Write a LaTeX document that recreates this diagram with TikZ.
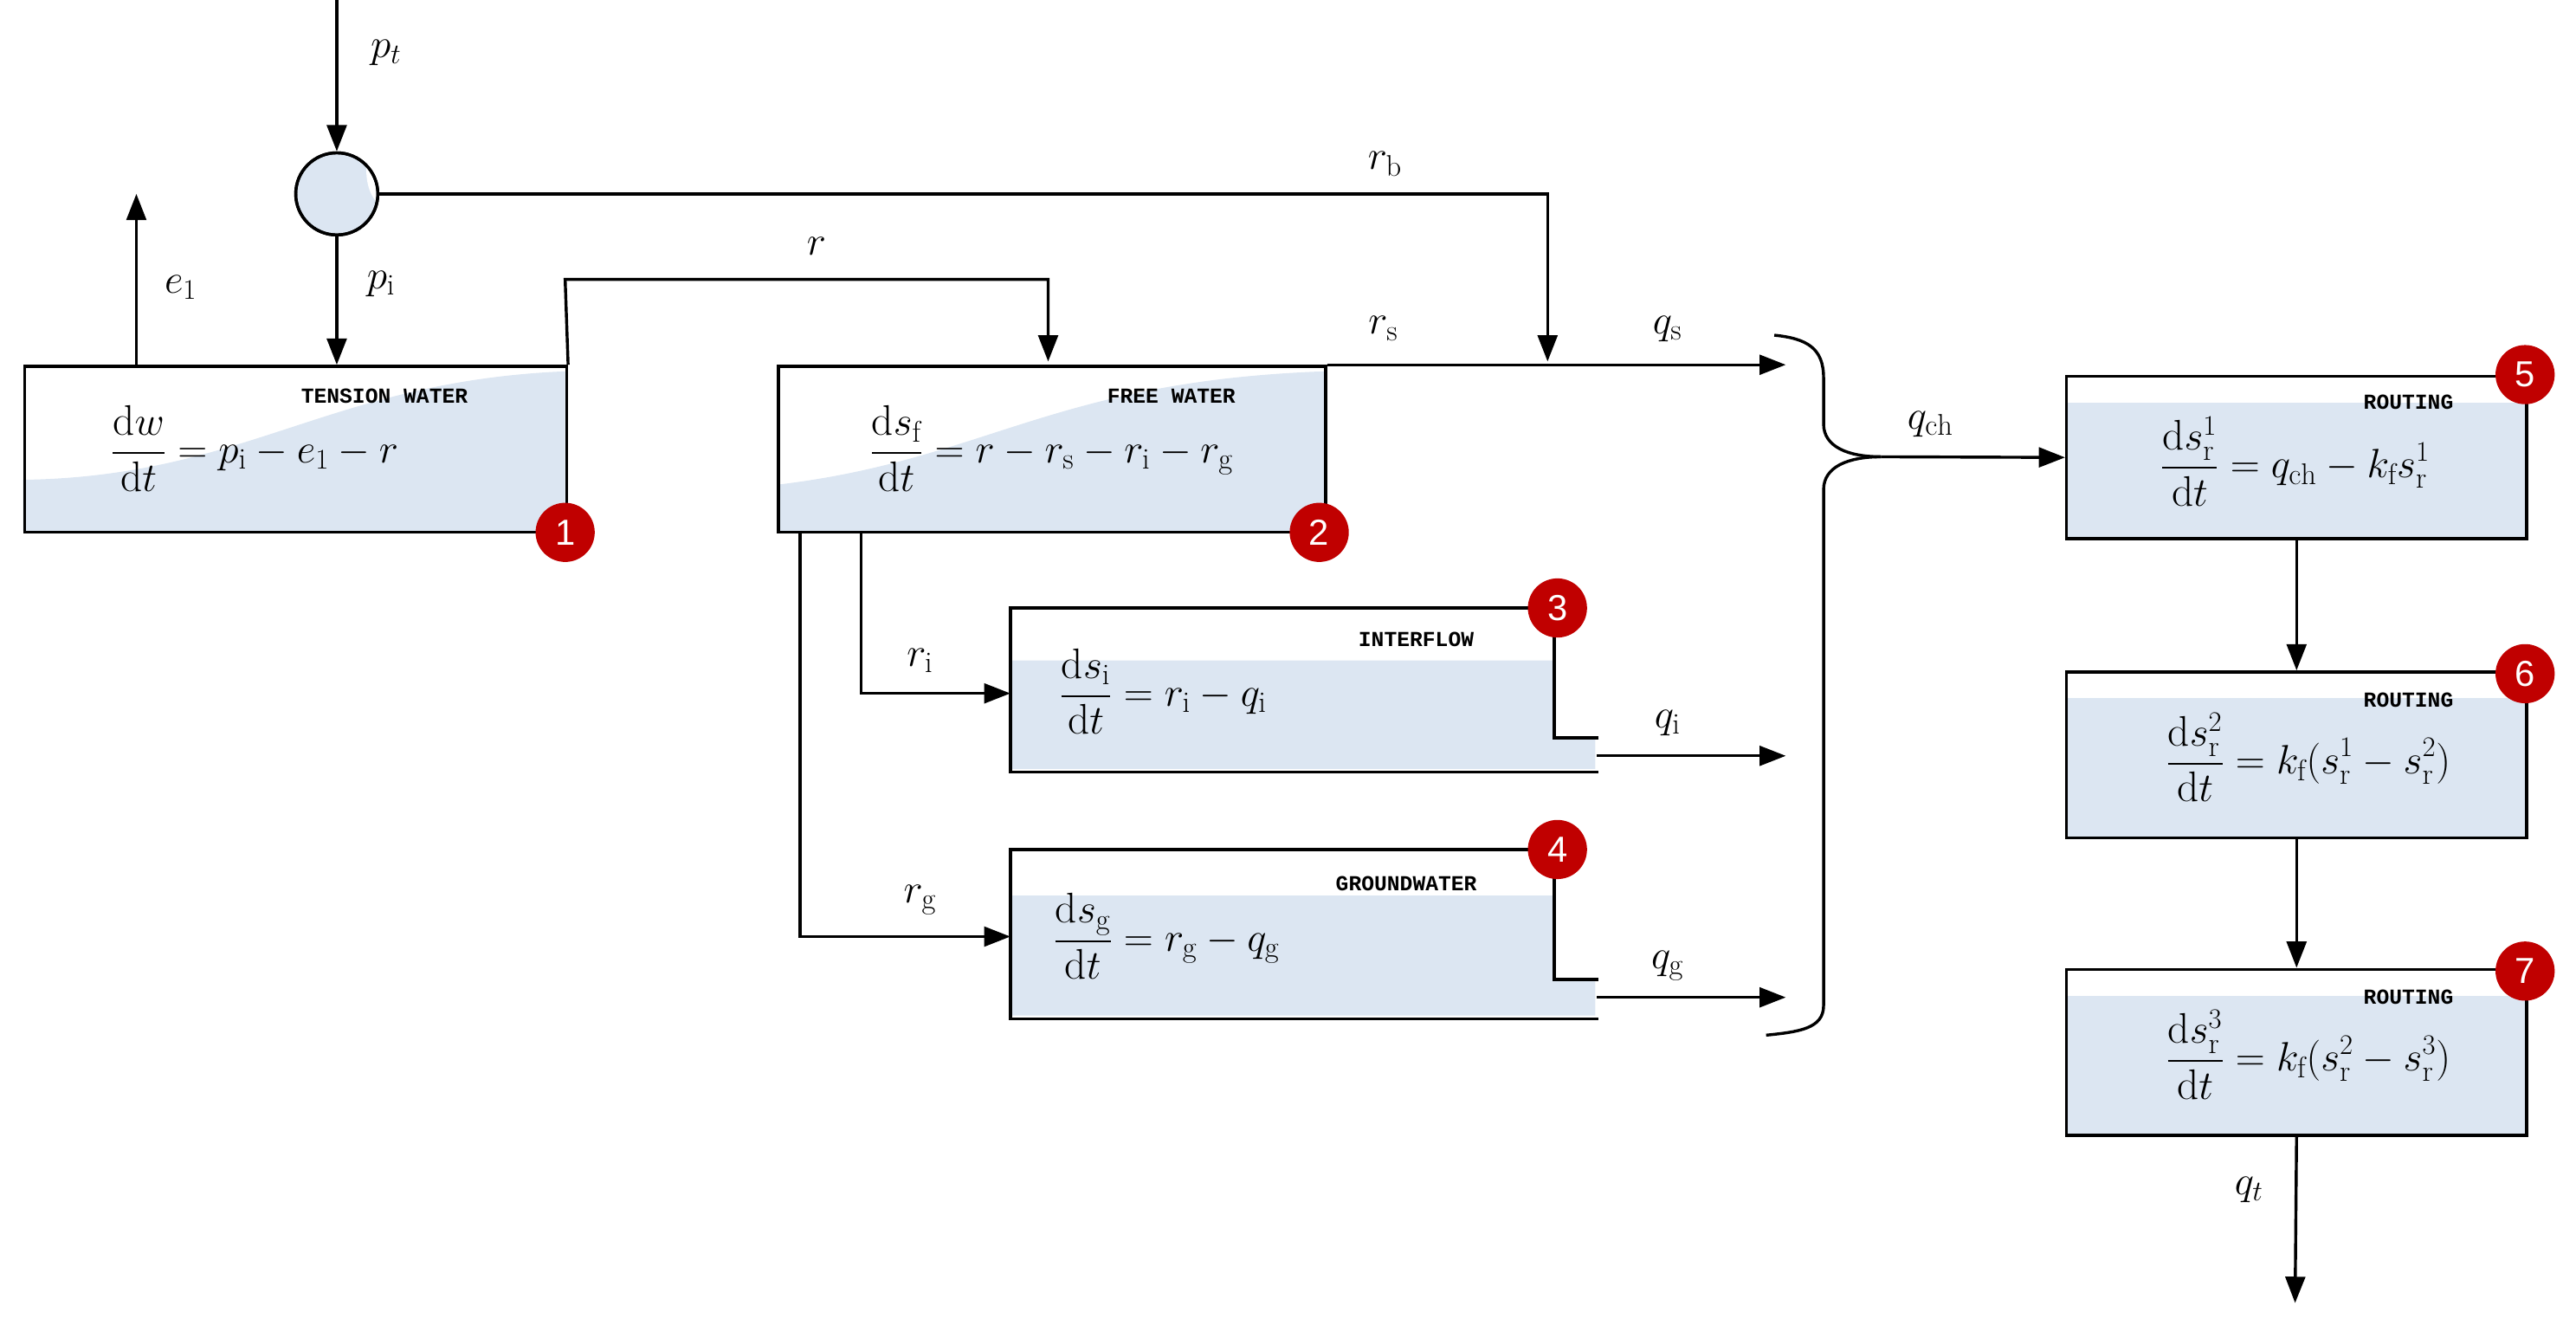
\documentclass[tikz,border=0pt]{standalone}
\usepackage{fontspec}
\usepackage{amsmath}
\usetikzlibrary{arrows.meta}
\newfontfamily\monof{Liberation Mono}
\newfontfamily\badgef{Liberation Sans}
\definecolor{water}{HTML}{DCE6F2}
\definecolor{badgered}{HTML}{C00000}
\begin{document}
\begin{tikzpicture}[x=1pt,y=-1pt,
  line width=1.8pt,
  >={Triangle[length=16pt,width=12pt]},
  box/.style={draw,line width=1.8pt,anchor=north west,inner sep=0pt},
  lbl/.style={font=\fontsize{26}{30}\selectfont},
  eq/.style={font=\fontsize{26}{30}\selectfont},
  ttl/.style={font=\monof\bfseries\fontsize{13}{15}\selectfont,xscale=1.0},
  badge/.style={circle,fill=badgered,minimum size=36pt,inner sep=0pt,text=white,font=\badgef\fontsize{22}{24}\selectfont}]
\useasboundingbox (0,0) rectangle (1568,806);
% shading
\fill[water] (14,292) .. controls (150,290) and (200,232) .. (344,226) -- (344,323) -- (14,323) -- cycle;
\fill[water] (473,295) .. controls (600,280) and (640,232) .. (806,226) -- (806,323) -- (473,323) -- cycle;
\fill[water] (615,402) -- (946,402) -- (946,449) -- (971,449) -- (971,468) -- (615,468) -- cycle;
\fill[water] (615,545) -- (946,545) -- (946,596) -- (971,596) -- (971,618) -- (615,618) -- cycle;
\fill[water] (1257,245) rectangle (1537,327);
\fill[water] (1257,425) rectangle (1537,509);
\fill[water] (1257,606) rectangle (1537,690);
% boxes
\node[box,minimum width=330pt,minimum height=101pt] (b1) at (14,222) {};
\node[box,minimum width=333pt,minimum height=101pt] (b2) at (473,222) {};
\node[box,minimum width=280pt,minimum height=99pt] (b5) at (1257,228) {};
\node[box,minimum width=280pt,minimum height=101pt] (b6) at (1257,408) {};
\node[box,minimum width=280pt,minimum height=101pt] (b7) at (1257,589) {};
\draw (973,449) -- (946,449) -- (946,370) -- (615,370) -- (615,470) -- (973,470);
\draw (973,596) -- (946,596) -- (946,517) -- (615,517) -- (615,620) -- (973,620);
\coordinate (b3in) at (615,422);
\coordinate (b4in) at (615,570);
% titles & equations
\node[ttl] at (234,241) {TENSION WATER};
\node[eq] at (155,273) {$\displaystyle\frac{\mathrm{d}w}{\mathrm{d}t}=p_\mathrm{i}-e_1-r$};
\node[ttl] at (713,241) {FREE WATER};
\node[eq] at (640,273) {$\displaystyle\frac{\mathrm{d}s_\mathrm{f}}{\mathrm{d}t}=r-r_\mathrm{s}-r_\mathrm{i}-r_\mathrm{g}$};
\node[ttl] at (862,389) {INTERFLOW};
\node[eq] at (708,421) {$\displaystyle\frac{\mathrm{d}s_\mathrm{i}}{\mathrm{d}t}=r_\mathrm{i}-q_\mathrm{i}$};
\node[ttl] at (856,538) {GROUNDWATER};
\node[eq] at (710,570) {$\displaystyle\frac{\mathrm{d}s_\mathrm{g}}{\mathrm{d}t}=r_\mathrm{g}-q_\mathrm{g}$};
\node[ttl] at (1466,245) {ROUTING};
\node[eq] at (1397,281) {$\displaystyle\frac{\mathrm{d}s_\mathrm{r}^1}{\mathrm{d}t}=q_\mathrm{ch}-k_\mathrm{f}s_\mathrm{r}^1$};
\node[ttl] at (1466,426) {ROUTING};
\node[eq] at (1405,461) {$\displaystyle\frac{\mathrm{d}s_\mathrm{r}^2}{\mathrm{d}t}=k_\mathrm{f}(s_\mathrm{r}^1-s_\mathrm{r}^2)$};
\node[ttl] at (1466,607) {ROUTING};
\node[eq] at (1405,642) {$\displaystyle\frac{\mathrm{d}s_\mathrm{r}^3}{\mathrm{d}t}=k_\mathrm{f}(s_\mathrm{r}^2-s_\mathrm{r}^3)$};
% junction circle
\node[circle,draw,fill=water,minimum size=50pt,inner sep=0pt] (c) at (205,118) {};
\begin{scope}
\clip (205,118) circle (24pt);
\fill[white] (236,104) ellipse (13pt and 22pt);
\end{scope}
\draw (205,118) circle (25pt);
% connectors
\coordinate (top) at (205,0);
\draw[->] (top) -- (c.north);
\node[lbl] at (235,32) {$p_t$};
\draw[->] (c.south) -- (c.south |- b1.north);
\node[lbl] at (232,173) {$p_\mathrm{i}$};
\coordinate (e1end) at (83,118);
\draw[->] (83,222) -- (e1end);
\node[lbl] at (110,175) {$e_1$};
\draw[->] (c.east) -- (942,118) -- (942,220);
\node[lbl] at (843,100) {$r_\mathrm{b}$};
\draw[->] (b1.north east) -- (344,170) -- (638,170) -- (638,220);
\node[lbl] at (497,150) {$r$};
\coordinate (qsend) at (1087,222);
\draw[->] (b2.north east) -- (qsend);
\node[lbl] at (842,200) {$r_\mathrm{s}$};
\node[lbl] at (1015,200) {$q_\mathrm{s}$};
\draw[->] (524,323) -- (524,422) -- (b3in);
\node[lbl] at (560,402) {$r_\mathrm{i}$};
\draw[->] (487,323) -- (487,570) -- (b4in);
\node[lbl] at (560,548) {$r_\mathrm{g}$};
\coordinate (qiend) at (1087,460);
\coordinate (qgend) at (1087,607);
\draw[->] (972,460) -- (qiend);
\node[lbl] at (1015,440) {$q_\mathrm{i}$};
\draw[->] (972,607) -- (qgend);
\node[lbl] at (1015,588) {$q_\mathrm{g}$};
% brace
\draw (1080,204) .. controls (1100,206) and (1110,212) .. (1110,230) -- (1110,258) .. controls (1110,272) and (1125,278) .. (1145,278);
\draw (1145,278) .. controls (1125,278) and (1110,284) .. (1110,298) -- (1110,612) .. controls (1110,626) and (1095,628) .. (1075,630);
\draw[->] (1145,278) -- (b5.west);
\node[lbl] at (1175,258) {$q_\mathrm{ch}$};
\draw[->] (b5.south) -- (b6.north);
\draw[->] (b6.south) -- (b7.north);
\coordinate (qtend) at (1397,793);
\draw[->] (b7.south) -- (qtend);
\node[lbl] at (1369,724) {$q_t$};
% badges
\node[badge] at (344,324) {1};
\node[badge] at (803,324) {2};
\node[badge] at (948,370) {3};
\node[badge] at (948,517) {4};
\node[badge] at (1537,228) {5};
\node[badge] at (1537,410) {6};
\node[badge] at (1537,591) {7};
\end{tikzpicture}
\end{document}
